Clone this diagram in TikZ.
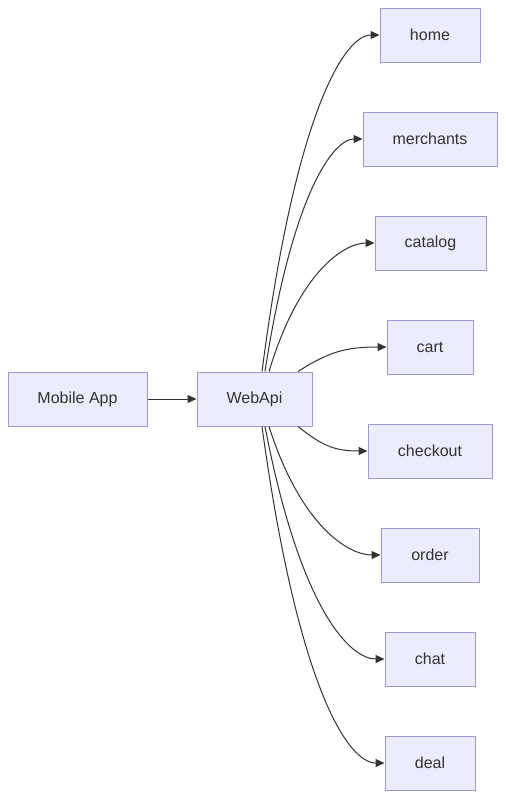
\documentclass[tikz,border=0pt]{standalone}
\usepackage{fontspec}
\setmainfont{Liberation Sans}
\usetikzlibrary{arrows.meta}
\definecolor{boxfill}{HTML}{ECECFF}
\definecolor{boxline}{HTML}{A597DB}
\definecolor{inkgrey}{HTML}{333333}
\tikzstyle{servicebox} = [draw=boxline, fill=boxfill, line width=1pt, inner sep=0, minimum height=54pt, text=inkgrey, font=\fontsize{16}{19}\selectfont]
\tikzstyle{link} = [draw=inkgrey, line width=1pt, -{Triangle[length=9pt,width=8pt]}]

\begin{document}
\begin{tikzpicture}[x=1pt, y=-1pt]
      \useasboundingbox (0, 0) rectangle (506, 798);
      \node[servicebox, minimum width=139pt] (mobile) at (77.5, 399) {Mobile App};
      \node[servicebox, minimum width=115pt] (webapi) at (254.5, 399) {WebApi};
      \node[servicebox, minimum width=100pt] (home) at (430, 35) {home};
      \node[servicebox, minimum width=134pt] (merchants) at (430, 139) {merchants};
      \node[servicebox, minimum width=111pt] (catalog) at (430.5, 243) {catalog};
      \node[servicebox, minimum width=86pt] (cart) at (430, 347) {cart};
      \node[servicebox, minimum width=124pt] (checkout) at (430, 451) {checkout};
      \node[servicebox, minimum width=98pt] (order) at (430, 555) {order};
      \node[servicebox, minimum width=90pt] (chat) at (430, 659) {chat};
      \node[servicebox, minimum width=90pt] (deal) at (430, 763) {deal};

      \draw[link] (mobile) -- (webapi);

      \draw[link] ([xshift=7.5pt]webapi.north) .. controls +(34, -263) and +(-34, 0) .. (home.west);
      \draw[link] ([xshift=10.5pt]webapi.north) .. controls +(28, -182) and +(-28, 0) .. (merchants.west);
      \draw[link] ([xshift=14.5pt]webapi.north) .. controls +(30, -100) and +(-30, 0) .. (catalog.west);
      \draw[link] ([xshift=43.5pt]webapi.north) .. controls +(31, -20) and +(-40, 0) .. (cart.west);
      \draw[link] ([xshift=43.5pt]webapi.south) .. controls +(25, 20) and +(-32, 0) .. (checkout.west);
      \draw[link] ([xshift=14.5pt]webapi.south) .. controls +(32, 100) and +(-32, 0) .. (order.west);
      \draw[link] ([xshift=10.5pt]webapi.south) .. controls +(35, 182) and +(-35, 0) .. (chat.west);
      \draw[link] ([xshift=7.5pt]webapi.south) .. controls +(36, 263) and +(-36, 0) .. (deal.west);
    \end{tikzpicture}
\end{document}
